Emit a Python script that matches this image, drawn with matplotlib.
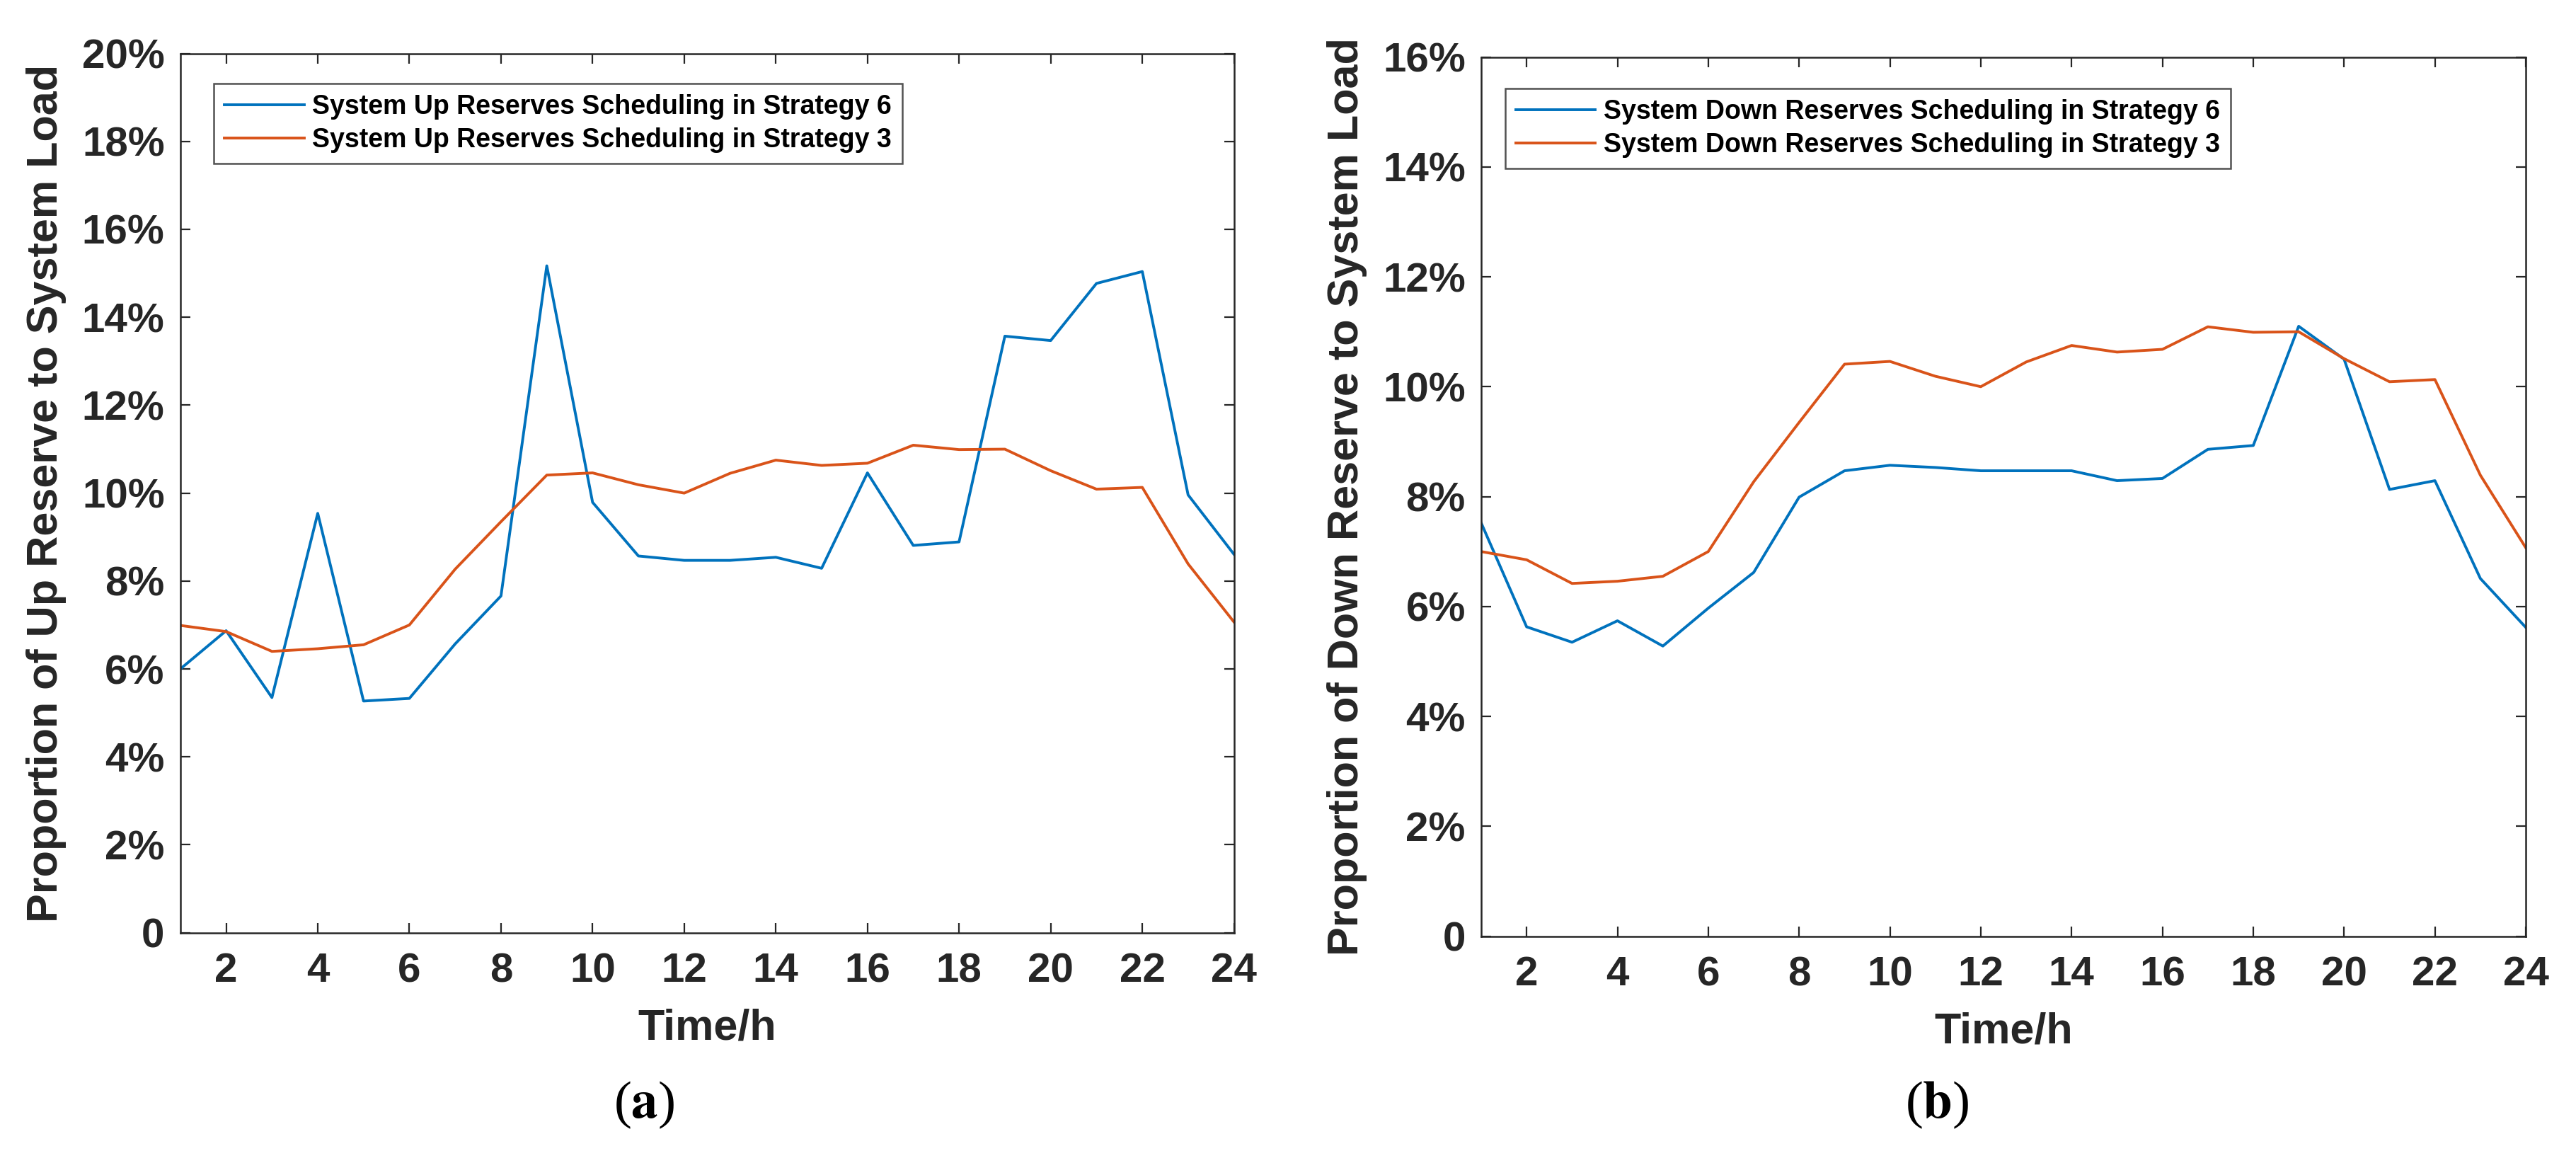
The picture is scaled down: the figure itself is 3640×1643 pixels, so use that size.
import matplotlib
matplotlib.use("Agg")
import matplotlib.pyplot as plt
from matplotlib.ticker import FuncFormatter

hours = list(range(1, 25))

up_strategy6 = [6.0, 6.87, 5.35, 9.54, 5.27, 5.33, 6.57, 7.66, 15.17, 9.79, 8.57, 8.47,
                8.47, 8.54, 8.29, 10.46, 8.81, 8.89, 13.57, 13.47, 14.77, 15.04, 9.96, 8.61]
up_strategy3 = [6.99, 6.85, 6.40, 6.46, 6.55, 7.0, 8.27, 9.35, 10.41, 10.46, 10.19, 10.0,
                10.45, 10.75, 10.63, 10.68, 11.09, 10.99, 11.0, 10.51, 10.09, 10.13, 8.39, 7.07]
down_strategy6 = [7.52, 5.63, 5.35, 5.74, 5.28, 5.97, 6.62, 7.99, 8.47, 8.57, 8.53, 8.47,
                  8.47, 8.47, 8.29, 8.33, 8.86, 8.93, 11.1, 10.5, 8.13, 8.29, 6.51, 5.62]
down_strategy3 = [7.0, 6.85, 6.42, 6.46, 6.55, 7.0, 8.27, 9.35, 10.41, 10.46, 10.19, 10.0,
                  10.45, 10.75, 10.63, 10.68, 11.09, 10.99, 11.0, 10.51, 10.09, 10.13, 8.39, 7.07]

up_labels = ["System Up Reserves Scheduling in Strategy 6",
             "System Up Reserves Scheduling in Strategy 3"]
down_labels = ["System Down Reserves Scheduling in Strategy 6",
               "System Down Reserves Scheduling in Strategy 3"]
xticks = list(range(2, 25, 2))

BLUE = "#0072BD"
ORANGE = "#D95319"
DARK = "#262626"

plt.rcParams['font.family'] = ["Liberation Sans", "DejaVu Sans"]
plt.rcParams['font.weight'] = 'bold'
plt.rcParams['mathtext.fontset'] = 'stix'

fig = plt.figure(figsize=(18.2, 8.215), dpi=200)

def pct(v, pos):
    return "0" if abs(v) < 1e-9 else f"{v:.0f}%"

def setup(ax, ymax, ylabel, labels, s6, s3, leg_anchor):
    l1, = ax.plot(hours, s6, color=BLUE, lw=1.4)
    l2, = ax.plot(hours, s3, color=ORANGE, lw=1.4)
    ax.set_xlim(1, 24)
    ax.set_ylim(0, ymax)
    ax.set_xticks(xticks)
    ax.set_yticks(range(0, ymax + 1, 2))
    ax.yaxis.set_major_formatter(FuncFormatter(pct))
    ax.tick_params(direction='in', length=5, width=0.8, labelsize=21,
                   top=True, right=True, colors=DARK)
    ax.tick_params(axis='x', pad=10)
    ax.tick_params(axis='y', pad=8)
    for lab in ax.get_xticklabels() + ax.get_yticklabels():
        lab.set_fontweight('bold')
    for sp in ax.spines.values():
        sp.set_linewidth(0.9)
        sp.set_color(DARK)
    ax.set_xlabel("Time/h", fontsize=22, fontweight='bold', color=DARK, labelpad=9)
    ax.set_ylabel(ylabel, fontsize=22, fontweight='bold', color=DARK, labelpad=8)
    leg = ax.legend([l1, l2], labels, loc='upper left', bbox_to_anchor=leg_anchor,
                    fontsize=13.5, frameon=True, fancybox=False, edgecolor=DARK,
                    handlelength=3.0, handletextpad=0.3, borderpad=0.4, labelspacing=0.3,
                    borderaxespad=0)
    leg.get_frame().set_linewidth(0.9)
    for t in leg.get_texts():
        t.set_fontweight('bold')
        t.set_color('black')

ax1 = fig.add_axes([0.070, 0.198, 0.409, 0.756])
setup(ax1, 20, "Proportion of Up Reserve to System Load", up_labels,
      up_strategy6, up_strategy3, (0.032, 0.966))
ax2 = fig.add_axes([0.575, 0.195, 0.4055, 0.756])
setup(ax2, 16, "Proportion of Down Reserve to System Load", down_labels,
      down_strategy6, down_strategy3, (0.023, 0.964))

for xc, letter in [(0.250, "a"), (0.752, "b")]:
    fig.text(xc, 0.050, "(" + r"$\mathbf{" + letter + r"}$" + ")", ha='center', va='center',
             fontsize=27, family=["Liberation Serif", "DejaVu Serif"], fontweight='normal',
             color='black')

fig.savefig("out.png", dpi=200)
